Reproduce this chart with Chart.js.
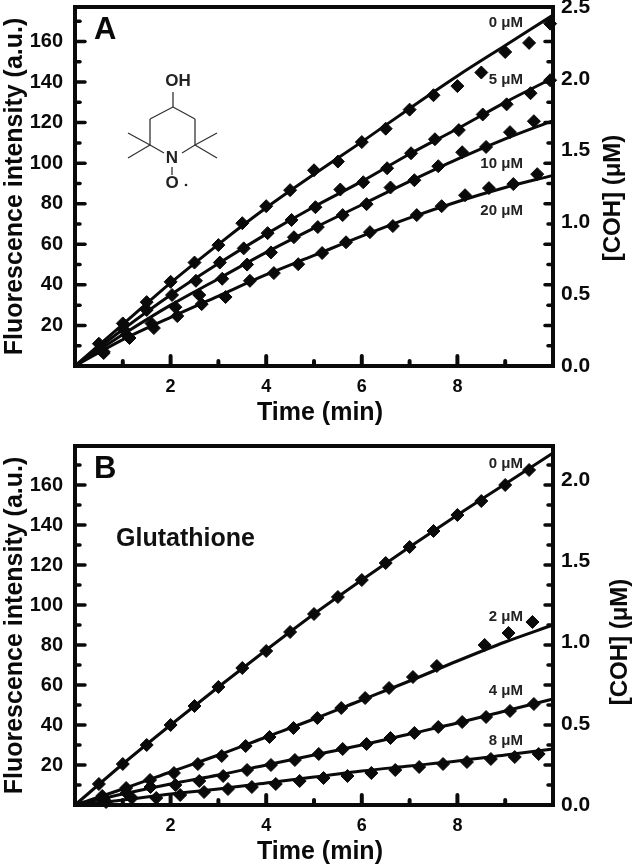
<!DOCTYPE html>
<html>
<head>
<meta charset="utf-8">
<title>Fluorescence intensity</title>
<script src="https://cdn.jsdelivr.net/npm/chart.js@4"></script>
<style>
    html, body { margin: 0; padding: 0; background: #fff; }
    canvas { position: absolute; left: 0; }
    #panelA { top: 0; }
    #panelB { top: 432px; }
</style>
</head>
<body>
<canvas id="panelA" width="633" height="432"></canvas>
<canvas id="panelB" width="633" height="433"></canvas>
<script>
const xMajor = [2, 4, 6, 8];
const xMinor = [1, 3, 5, 7, 9];
const yMajor = [20, 40, 60, 80, 100, 120, 140, 160];
const yMinor = [10, 30, 50, 70, 90, 110, 130, 150, 170];
const fitX = [0, 1, 2, 3, 4, 5, 6, 7, 8, 9, 10];

// panel A
const a0x = [0.5, 1, 1.5, 2, 2.5, 3, 3.5, 4, 4.5, 5, 5.5, 6, 6.5, 7, 7.5, 8, 8.5, 9, 9.5, 9.94];
const a0y = [11, 21, 31.5, 41.5, 51, 59.6, 70.4, 78.8, 86.7, 96.5, 100.8, 110.4, 117, 126.4, 133.5, 138, 144.7, 154.8, 159.3, 168.8];
const a5x = [0.53, 1.03, 1.5, 2.03, 2.53, 3.03, 3.53, 4.03, 4.53, 5.03, 5.55, 6.03, 6.53, 7.03, 7.53, 8.03, 8.53, 9.03, 9.53, 9.94];
const a5y = [8, 17.7, 27.6, 35, 42, 51, 58, 65.5, 72, 78.3, 87, 90.6, 97.5, 104.9, 111.8, 116.3, 124, 129, 134.5, 140.9];
const a10x = [0.6, 1.08, 1.6, 2.1, 2.6, 3.08, 3.6, 4.1, 4.58, 5.08, 5.6, 6.1, 6.6, 7.1, 7.6, 8.1, 8.6, 9.1, 9.6];
const a10y = [7, 15.3, 21, 29, 35, 43, 50, 56, 63.5, 68.5, 74.4, 79.8, 88, 91.6, 98.5, 105.4, 108, 115.3, 120.7];
const a20x = [0.6, 1.14, 1.65, 2.14, 2.65, 3.15, 3.66, 4.16, 4.67, 5.17, 5.67, 6.17, 6.65, 7.15, 7.67, 8.16, 8.66, 9.17, 9.67];
const a20y = [6.4, 13.8, 18.7, 24.6, 30.5, 34, 42, 45.8, 50.2, 55.7, 61, 66, 69, 74.4, 78.8, 84.2, 87.7, 89.7, 94.6];
const fitA0 = [0, 20.5, 41, 60, 78, 94.5, 110.5, 127, 143, 158, 173];
const fitA5 = [0, 18, 35, 50.5, 65, 78.5, 91, 104.5, 117, 130, 142];
const fitA10 = [0, 15.5, 30, 43, 56, 68, 79.5, 91, 102, 112, 121];
const fitA20 = [0, 13, 24, 34.5, 45, 54.5, 64, 73, 81, 88, 94];
const labelsA = ['0 μM', '5 μM', '10 μM', '20 μM'];
const labelYA = [169, 141, 99.5, 76.5];
const rightTicksA = [0, 0.5, 1, 1.5, 2, 2.5];

// panel B
const b0x = [0.5, 1, 1.5, 2, 2.5, 3, 3.5, 4, 4.5, 5, 5.5, 6, 6.5, 7, 7.5, 8, 8.5, 9, 9.5];
const b0y = [10.5, 20.5, 30, 40, 49.5, 59, 68.5, 77, 86.5, 95.5, 104, 112.5, 121, 129, 137, 145, 152, 160, 167.5];
const b2x = [0.57, 1.07, 1.57, 2.07, 2.57, 3.07, 3.57, 4.07, 4.57, 5.07, 5.57, 6.07, 6.57, 7.07, 7.57, 8.57, 9.07, 9.57];
const b2y = [4.5, 8.5, 12.5, 16, 20.5, 24.5, 29.5, 34, 38.5, 43.5, 48.5, 53.5, 58.5, 64, 69.5, 80, 86, 91.5];
const b4x = [0.6, 1.08, 1.58, 2.1, 2.6, 3.1, 3.6, 4.1, 4.6, 5.1, 5.6, 6.1, 6.6, 7.1, 7.6, 8.1, 8.6, 9.1, 9.6];
const b4y = [3, 6, 9, 10, 12, 14.5, 17.5, 20, 22.5, 25.5, 28, 30.5, 33.5, 36, 39, 41.5, 44, 47, 50.5];
const b8x = [0.65, 1.19, 1.7, 2.2, 2.7, 3.2, 3.7, 4.2, 4.7, 5.2, 5.7, 6.2, 6.7, 7.2, 7.7, 8.2, 8.7, 9.2, 9.7];
const b8y = [1.5, 3.5, 3.5, 5, 6.5, 8, 9, 10.5, 12, 13.5, 14.5, 16, 17.5, 19, 20.5, 21.5, 23, 24, 25.5];
const fitB0 = [0, 20.5, 40, 59, 77.5, 95.5, 112.5, 129, 145, 160.5, 176];
const fitB2 = [0, 8, 16.5, 25, 34, 43, 52.5, 62, 72, 81.5, 90];
const fitB4 = [0, 5.5, 10.5, 15, 20, 25, 30, 35.5, 41, 47, 53];
const fitB8 = [0, 2.5, 5.5, 8, 11, 14, 17, 19.5, 22, 25, 28];
const labelsB = ['0 μM', '2 μM', '4 μM', '8 μM'];
const labelYB = [170.5, 94, 57, 32];
const rightTicksB = [0, 0.5, 1, 1.5, 2];

const labelX = 9.37;
const fontName = '"Liberation Sans", Arial, sans-serif';

function zip(xs, ys) {
    return xs.map((x, i) => ({ x: x, y: ys[i] }));
}

function markers(xs, ys) {
    return {
        data: zip(xs, ys),
        showLine: false,
        pointStyle: 'rectRot',
        pointRadius: 6.5,
        backgroundColor: '#0a0a0a',
        borderColor: '#0a0a0a',
        clip: false
    };
}

function fitLine(ys) {
    return {
        data: zip(fitX, ys),
        showLine: true,
        pointRadius: 0,
        borderColor: '#0a0a0a',
        borderWidth: 3,
        cubicInterpolationMode: 'monotone',
        clip: false
    };
}

function drawTick(ctx, x1, y1, x2, y2, width) {
    ctx.lineWidth = width;
    ctx.beginPath();
    ctx.moveTo(x1, y1);
    ctx.lineTo(x2, y2);
    ctx.stroke();
}

// the scales must not push the plot area around with their label overflow
function clearPadding(scale) {
    scale.paddingTop = 0;
    scale.paddingBottom = 0;
    scale.paddingLeft = 0;
    scale.paddingRight = 0;
}

// inward ticks on left, right and bottom plus the heavy frame
const framePlugin = {
    id: 'frame',
    afterDatasetsDraw: function (chart) {
        const ctx = chart.ctx;
        const area = chart.chartArea;
        const xs = chart.scales.x;
        const ys = chart.scales.y;
        ctx.save();
        ctx.strokeStyle = '#0a0a0a';
        ctx.lineCap = 'round';
        xMajor.forEach(v => drawTick(ctx, xs.getPixelForValue(v), area.bottom, xs.getPixelForValue(v), area.bottom - 10, 4));
        xMinor.forEach(v => drawTick(ctx, xs.getPixelForValue(v), area.bottom, xs.getPixelForValue(v), area.bottom - 5, 4));
        yMajor.forEach(v => {
            const p = ys.getPixelForValue(v);
            drawTick(ctx, area.left, p, area.left + 10, p, 3.5);
            drawTick(ctx, area.right, p, area.right - 8, p, 3.5);
        });
        yMinor.forEach(v => {
            const p = ys.getPixelForValue(v);
            drawTick(ctx, area.left, p, area.left + 5, p, 3.5);
            drawTick(ctx, area.right, p, area.right - 5, p, 3.5);
        });
        ctx.lineCap = 'butt';
        ctx.lineWidth = 4;
        ctx.strokeRect(area.left, area.top, area.right - area.left, area.bottom - area.top);
        ctx.restore();
    }
};

// panel letter, concentration labels, x title and the bottom-up right title
const textPlugin = {
    id: 'panelText',
    afterDraw: function (chart) {
        const o = chart.options.plugins.panelText;
        const ctx = chart.ctx;
        const xs = chart.scales.x;
        const ys = chart.scales.y;
        const area = chart.chartArea;
        ctx.save();
        ctx.fillStyle = '#0a0a0a';
        ctx.textBaseline = 'middle';

        ctx.textAlign = 'left';
        ctx.font = 'bold 31px ' + fontName;
        ctx.fillText(o.letter, 94, area.top + 23);

        ctx.textAlign = 'right';
        ctx.font = 'bold 15px ' + fontName;
        ctx.fillStyle = '#222';
        o.labels.forEach((t, i) => ctx.fillText(t, xs.getPixelForValue(labelX), ys.getPixelForValue(o.labelY[i])));

        ctx.fillStyle = '#0a0a0a';
        ctx.textAlign = 'center';
        ctx.font = 'bold 25px ' + fontName;
        ctx.fillText('Time (min)', 320, area.bottom + 47);

        ctx.translate(o.rightTitleX, o.rightTitleY);
        ctx.rotate(-Math.PI / 2);
        ctx.font = 'bold 24px ' + fontName;
        ctx.fillText('[COH] (μM)', 0, 0);
        ctx.restore();
        if (o.extra === 'molecule') drawMolecule(ctx);
        if (o.extra === 'glutathione') drawGlutathione(ctx);
    }
};

// TEMPO-OH structure for panel A
const bonds = [
    [173, 92, 173, 107], [173, 107, 195, 119], [195, 119, 195, 145], [195, 145, 182, 153],
    [173, 107, 150, 119], [150, 119, 150, 145], [150, 145, 164, 153],
    [195, 145, 217, 133], [195, 145, 217, 158], [150, 145, 128, 133], [150, 145, 128, 158],
    [172, 167, 172, 175]
];

function drawMolecule(ctx) {
    ctx.save();
    ctx.strokeStyle = '#333';
    ctx.lineWidth = 1.3;
    bonds.forEach(b => {
        ctx.beginPath();
        ctx.moveTo(b[0], b[1]);
        ctx.lineTo(b[2], b[3]);
        ctx.stroke();
    });
    ctx.fillStyle = '#222';
    ctx.textAlign = 'center';
    ctx.textBaseline = 'middle';
    ctx.font = 'bold 17px ' + fontName;
    ctx.fillText('OH', 178, 81);
    ctx.fillText('N', 172, 158);
    ctx.fillText('O', 172, 183);
    ctx.beginPath();
    ctx.arc(186, 185, 1.3, 0, Math.PI * 2);
    ctx.fill();
    ctx.restore();
}

function drawGlutathione(ctx) {
    ctx.save();
    ctx.fillStyle = '#111';
    ctx.textAlign = 'left';
    ctx.textBaseline = 'middle';
    ctx.font = 'bold 25px ' + fontName;
    ctx.fillText('Glutathione', 116, 107);
    ctx.restore();
}

function makePanel(id, cfg) {
    const height = document.getElementById(id).height;
    const ctx = document.getElementById(id).getContext('2d');
    return new Chart(ctx, {
        type: 'scatter',
        data: { datasets: cfg.datasets },
        plugins: [framePlugin, textPlugin],
        options: {
            responsive: false,
            animation: false,
            layout: { autoPadding: false, padding: { top: cfg.top, left: 0, right: 0, bottom: 0 } },
            plugins: {
                legend: { display: false },
                tooltip: { enabled: false },
                panelText: cfg.text
            },
            scales: {
                x: {
                    type: 'linear',
                    min: 0,
                    max: 10,
                    grid: { display: false, drawTicks: false },
                    border: { display: false },
                    afterBuildTicks: function (scale) {
                        scale.ticks = xMajor.map(v => ({ value: v }));
                    },
                    afterFit: function (scale) {
                        scale.height = height - cfg.bottom;
                        clearPadding(scale);
                    },
                    ticks: {
                        autoSkip: false,
                        maxRotation: 0,
                        padding: 10,
                        color: '#0a0a0a',
                        font: { family: fontName, weight: 'bold', size: 18 }
                    }
                },
                y: {
                    type: 'linear',
                    position: 'left',
                    min: 0,
                    max: cfg.yMax,
                    grid: { display: false, drawTicks: false },
                    border: { display: false },
                    afterBuildTicks: function (scale) {
                        scale.ticks = yMajor.map(v => ({ value: v }));
                    },
                    afterFit: function (scale) {
                        scale.width = 75;
                        clearPadding(scale);
                    },
                    title: {
                        display: true,
                        text: 'Fluorescence intensity (a.u.)',
                        color: '#0a0a0a',
                        padding: { top: 0, bottom: 0 },
                        font: { family: fontName, weight: 'bold', size: 25 }
                    },
                    ticks: {
                        autoSkip: false,
                        padding: 12,
                        color: '#0a0a0a',
                        font: { family: fontName, weight: 'bold', size: 20 }
                    }
                },
                y2: {
                    type: 'linear',
                    position: 'right',
                    min: 0,
                    max: cfg.rightMax,
                    grid: { display: false, drawTicks: false },
                    border: { display: false },
                    afterBuildTicks: function (scale) {
                        scale.ticks = cfg.rightTicks.map(v => ({ value: v }));
                    },
                    afterFit: function (scale) {
                        scale.width = 80;
                        clearPadding(scale);
                    },
                    ticks: {
                        autoSkip: false,
                        padding: 8,
                        color: '#0a0a0a',
                        font: { family: fontName, weight: 'bold', size: 21 },
                        callback: function (value) { return value.toFixed(1); }
                    }
                }
            }
        }
    });
}

makePanel('panelA', {
    top: 7,
    bottom: 366,
    yMax: 177,
    rightMax: 2.5,
    rightTicks: rightTicksA,
    text: { letter: 'A', labels: labelsA, labelY: labelYA, rightTitleX: 613, rightTitleY: 198, extra: 'molecule' },
    datasets: [
        fitLine(fitA0), fitLine(fitA5), fitLine(fitA10), fitLine(fitA20),
        markers(a0x, a0y), markers(a5x, a5y), markers(a10x, a10y), markers(a20x, a20y)
    ]
});

makePanel('panelB', {
    top: 14,
    bottom: 373,
    yMax: 179.5,
    rightMax: 2.21,
    rightTicks: rightTicksB,
    text: { letter: 'B', labels: labelsB, labelY: labelYB, rightTitleX: 620, rightTitleY: 210, extra: 'glutathione' },
    datasets: [
        fitLine(fitB0), fitLine(fitB2), fitLine(fitB4), fitLine(fitB8),
        markers(b0x, b0y), markers(b2x, b2y), markers(b4x, b4y), markers(b8x, b8y)
    ]
});
</script>
</body>
</html>
